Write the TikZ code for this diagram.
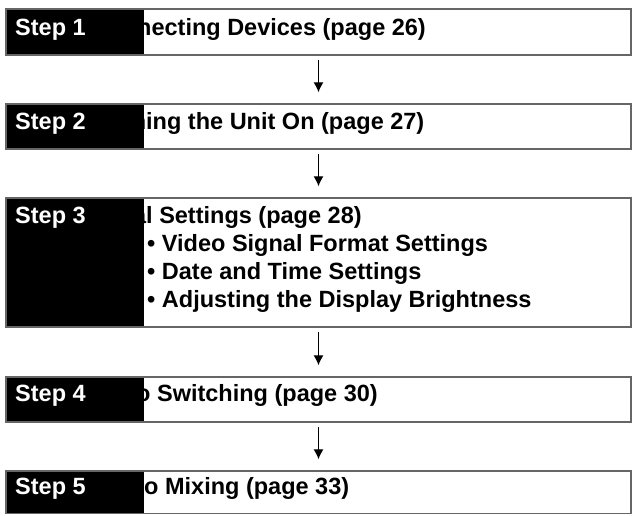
\documentclass[tikz,border=0pt]{standalone}
\usepackage{fontspec}
\setmainfont{Liberation Sans}
\usetikzlibrary{arrows.meta}

\newcommand\stepfont{\fontsize{23.5}{28}\selectfont\bfseries}

\tikzset{
  stepbox/.style={draw=black!60, line width=1.4pt, minimum width=625pt, inner sep=0pt},
  steptag/.style={text=white, anchor=base west, inner sep=0pt},
  steptext/.style={anchor=base west, inner sep=0pt},
  flow/.style={-{Latex[length=10pt,width=10pt]}, line width=1.2pt, shorten <=4pt, shorten >=11pt}
}

\begin{document}
\begin{tikzpicture}
  [x=1pt,y=-1pt,every node/.style={font=\stepfont}]
  \useasboundingbox (0,0) rectangle (637,515);

  % step 1
  \node[steptext] (t1) at (137,35) {\llap{Con}necting Devices (page 26)};
  \fill[black] (6,9) rectangle (144,55);
  \node[steptag] (l1) at (15,35) {Step 1};
  \node[stepbox, minimum height=46pt] (s1) at (318.5,32) {};

  % step 2
  \node[steptext] (t2) at (146,129) {\llap{Turn}ing the Unit On (page 27)};
  \fill[black] (6,104) rectangle (144,149);
  \node[steptag] (l2) at (15,129) {Step 2};
  \node[stepbox, minimum height=45pt] (s2) at (318.5,126.5) {};

  % step 3
  \node[steptext] (t3) at (146,223) {\llap{Initia}l Settings (page 28)};
  \node[steptext] (t3a) at (147,251) {• Video Signal Format Settings};
  \node[steptext] (t3b) at (147,279) {• Date and Time Settings};
  \node[steptext] (t3c) at (147,307) {• Adjusting the Display Brightness};
  \fill[black] (6,198) rectangle (144,327);
  \node[steptag] (l3) at (15,223) {Step 3};
  \node[stepbox, minimum height=129pt] (s3) at (318.5,262.5) {};

  % step 4
  \node[steptext] (t4) at (136,401) {\llap{Vide}o Switching (page 30)};
  \fill[black] (6,377) rectangle (144,422);
  \node[steptag] (l4) at (15,401) {Step 4};
  \node[stepbox, minimum height=45pt] (s4) at (318.5,399.5) {};

  % step 5
  \node[steptext] (t5) at (144,494) {\llap{Audi}o Mixing (page 33)};
  \fill[black] (6,471) rectangle (144,513.5);
  \node[steptag] (l5) at (15,494) {Step 5};
  \node[stepbox, minimum height=42.5pt] (s5) at (318.5,492.25) {};

  \foreach \from/\to in {s1/s2,s2/s3,s3/s4,s4/s5}
    \draw[flow] (\from) -- (\to);

\end{tikzpicture}
\end{document}
